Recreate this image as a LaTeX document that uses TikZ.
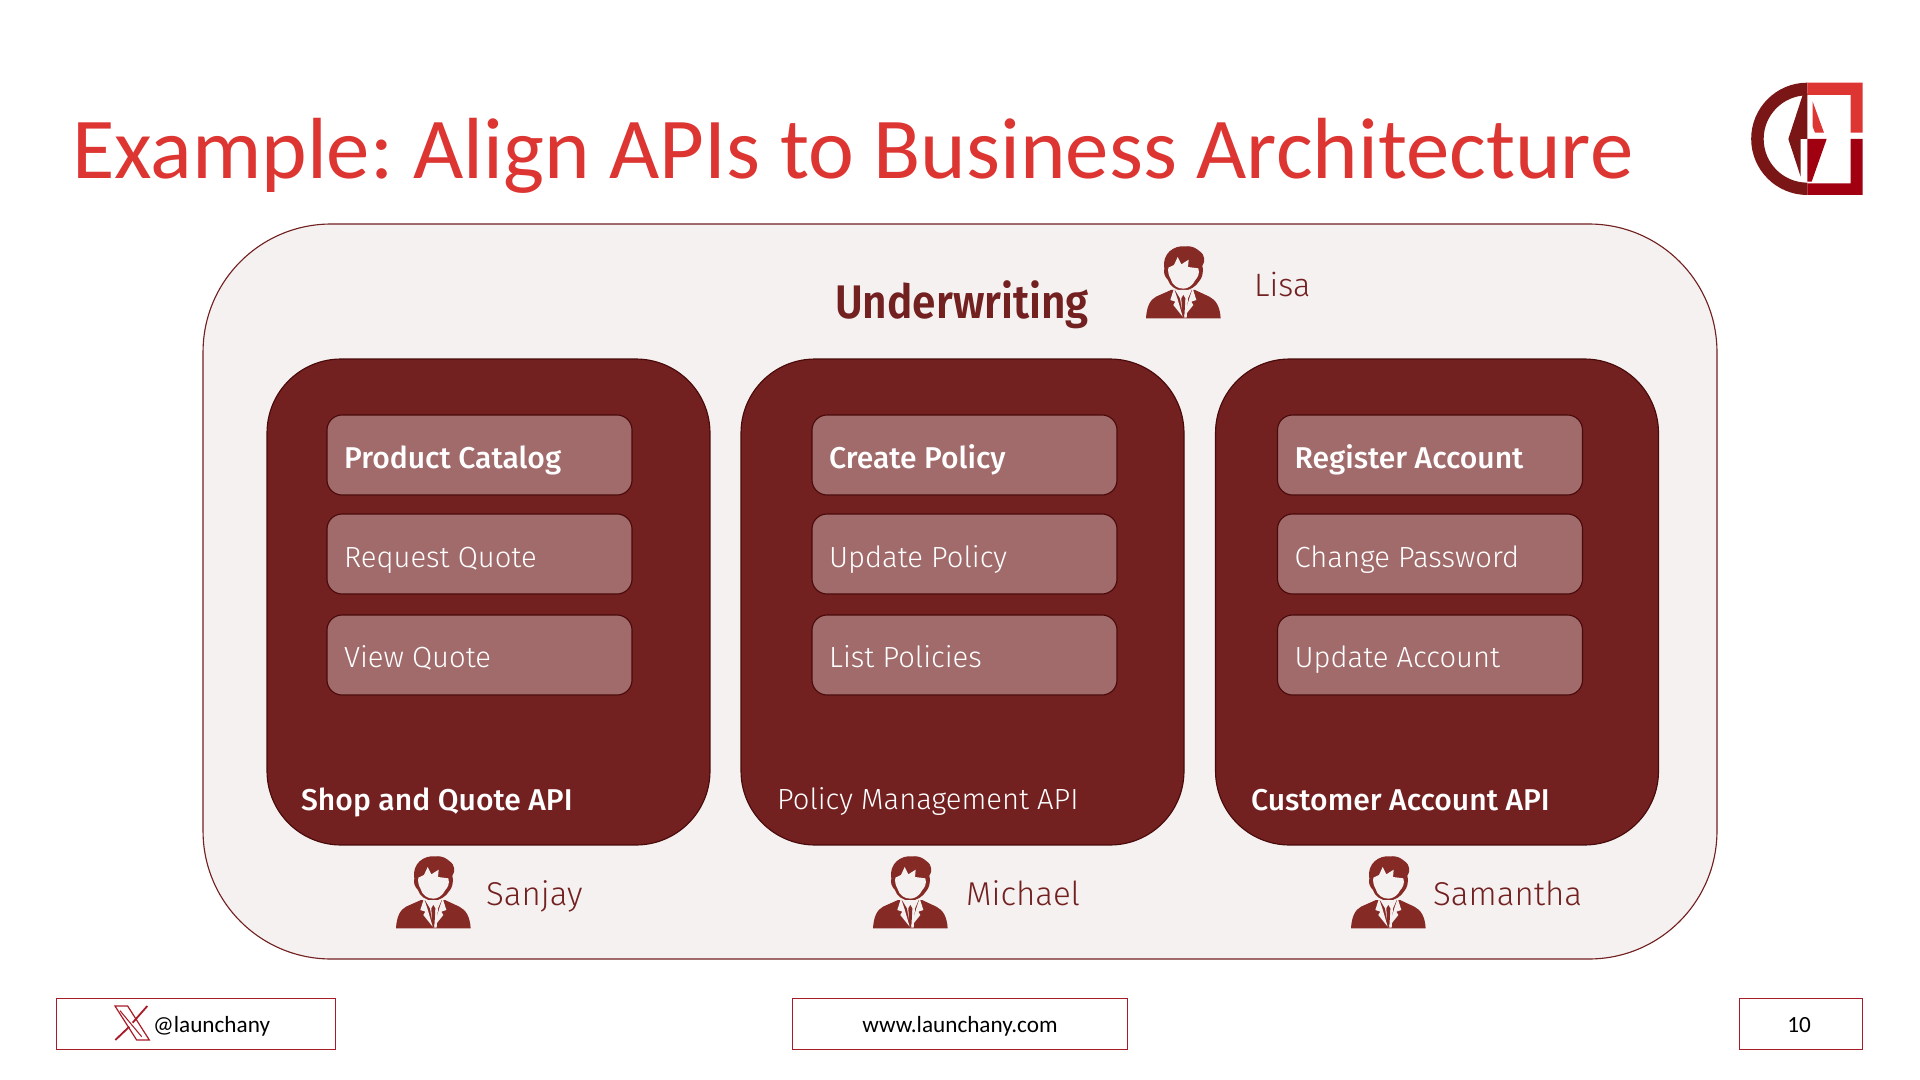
\documentclass[tikz,border=0pt]{standalone}
\usepackage{fontspec}
\setmainfont{Fira Sans Light}[BoldFont={Fira Sans Medium}]
\newfontfamily\titlefont{Carlito}
\newfontfamily\uwfont[FakeStretch=0.9]{Fira Sans SemiBold}
\usetikzlibrary{calc}
\definecolor{panelred}{HTML}{722020}
\definecolor{subred}{HTML}{A16B6B}
\definecolor{edgered}{HTML}{4A0A0A}
\definecolor{paleback}{HTML}{F5F1F1}
\definecolor{titlered}{HTML}{DC3532}
\definecolor{iconred}{HTML}{862A26}
\definecolor{logodark}{HTML}{7A1616}
\definecolor{logomid}{HTML}{A00010}
\definecolor{footred}{HTML}{A81C28}
\newcommand{\opfont}{\fontsize{41.5}{48}\selectfont}
\newcommand{\opboldfont}{\bfseries\fontsize{42.8}{48}\selectfont}
\tikzset{
  x=0.05cm,y=-0.05cm,
  outerpanel/.style={draw=panelred,line width=1.6pt,fill=paleback,rounded corners=6.4cm,minimum width=75.7cm,minimum height=36.75cm,inner sep=0},
  apipanel/.style={draw=edgered,line width=1.6pt,fill=panelred,rounded corners=3.7cm,minimum width=22.15cm,minimum height=24.3cm,inner sep=0},
  opbox/.style={draw=edgered,line width=1.6pt,fill=subred,rounded corners=0.75cm,minimum width=15.25cm,minimum height=4cm,inner sep=0},
  optext/.style={text=white,anchor=base west,inner sep=0,font=\opfont},
  apilabel/.style={text=white,anchor=base west,inner sep=0,font=\opfont},
  ownerlabel/.style={text=panelred,anchor=base west,inner sep=0,font=\fontsize{47}{56}\selectfont},
  footbox/.style={draw=footred,line width=1.1pt,fill=white,minimum height=2.55cm,inner sep=0},
  foottext/.style={text=black,inner sep=0,font=\titlefont\fontsize{33}{40}\selectfont},
  person/.pic={
    \begin{scope}[scale=0.3333]
    \fill[iconred] (0,220) .. controls (2,185) and (12,165) .. (30,155) -- (75,135) -- (147,135) -- (190,155) .. controls (210,165) and (222,185) .. (224,220) -- cycle;
    \fill[iconred] (55,70) .. controls (47,25) and (85,0) .. (118,4) .. controls (140,2) and (150,10) .. (160,18) .. controls (178,30) and (178,50) .. (169,62) .. controls (174,85) and (167,100) .. (160,108) .. controls (150,125) and (130,137) .. (112,137) .. controls (90,137) and (70,122) .. (66,105) .. controls (56,95) and (52,85) .. (55,70) -- cycle;
    \fill[paleback] (67,68) -- (84,60) -- (95,36) -- (106,58) -- (128,44) -- (126,66) -- (157,70) .. controls (162,85) and (155,98) .. (148,105) .. controls (140,122) and (125,131) .. (112,131) .. controls (95,131) and (78,120) .. (74,102) .. controls (68,92) and (65,80) .. (67,68) -- cycle;
    \fill[paleback] (87,135) -- (137,135) -- (126,160) -- (122,218) -- (112,218) -- (102,160) -- cycle;
    \fill[iconred] (106,160) -- (112,150) -- (118,160) -- (115,218) -- (109,218) -- cycle;
    \fill[paleback] (84,130) -- (73,165) -- (88,170) -- (82,180) -- (110,215) -- (94,160) -- cycle;
    \fill[paleback] (140,130) -- (151,165) -- (136,170) -- (142,180) -- (114,215) -- (130,160) -- cycle;
    \end{scope}
  }
}
\begin{document}
\begin{tikzpicture}
\useasboundingbox (0,0) rectangle (1920,1080);
\fill[white] (0,0) rectangle (1920,1080);
% title
\node[anchor=base west,inner sep=0,text=titlered,font=\titlefont\fontsize{123.5}{140}\selectfont] (title) at (72,178) {Example:\hspace{-0.07em} Align APIs to Business Architecture};
% logo
\begin{scope}[shift={(1720,60)},scale=0.3333]
\fill[logodark] (262,68) arc[start angle=270,end angle=90,radius=168.5] -- (262,368) arc[start angle=90,end angle=270,radius=131] -- cycle;
\fill[titlered] (262,68) -- (428,68) -- (428,218) -- (392,218) -- (392,105) -- (262,105) -- cycle;
\fill[logomid] (428,237) -- (428,405) -- (262,405) -- (262,370) -- (392,370) -- (392,237) -- cycle;
\fill[logodark] (262,100) -- (248,105) -- (205,237) -- (242,350) -- (242,237) -- (262,237) -- cycle;
\fill[titlered] (278,125) -- (312,218) -- (285,218) -- (278,200) -- cycle;
\fill[logomid] (262,237) -- (320,237) -- (275,365) -- (262,365) -- cycle;
\end{scope}
% outer
\node[outerpanel] (uw) at (960,591.5) {};
\node[anchor=base,inner sep=0,text=panelred,font=\uwfont\fontsize{67}{80}\selectfont] (uwlabel) at (962,318) {Underwriting};
\pic at (1146,245) {person};
\node[ownerlabel,font=\fontsize{46}{56}\selectfont] (lisa) at (1254,296) {Lisa};
% panels
\node[apipanel] (p1) at (488.5,602) {};
\node[apipanel] (p2) at (962.5,602) {};
\node[apipanel] (p3) at (1437,602) {};
% boxes
\node[opbox] (a1) at (479.5,455) {};
\node[opbox] (a2) at (479.5,554) {};
\node[opbox] (a3) at (479.5,655) {};
\node[opbox] (b1) at (964.5,455) {};
\node[opbox] (b2) at (964.5,554) {};
\node[opbox] (b3) at (964.5,655) {};
\node[opbox] (c1) at (1430,455) {};
\node[opbox] (c2) at (1430,554) {};
\node[opbox] (c3) at (1430,655) {};
\node[optext,font=\opboldfont] at (344,468) {Product Catalog};
\node[optext] at (344,567) {Request Quote};
\node[optext] at (344,667) {View Quote};
\node[optext,font=\opboldfont] at (829,468) {Create Policy};
\node[optext] at (829,567) {Update Policy};
\node[optext] at (829,667) {List Policies};
\node[optext,font=\opboldfont] at (1294.5,468) {Register Account};
\node[optext] at (1294.5,567) {Change Password};
\node[optext] at (1294.5,667) {Update Account};
\node[apilabel,font=\opboldfont] at (301,810) {Shop and Quote API};
\node[apilabel] at (777,809) {Policy Management API};
\node[apilabel,font=\opboldfont] at (1251,810) {Customer Account API};
% owners
\pic at (396,855) {person};
\pic at (873,855) {person};
\pic at (1351,855) {person};
\node[ownerlabel] at (486,905) {Sanjay};
\node[ownerlabel] at (966,905) {Michael};
\node[ownerlabel] at (1433,905) {Samantha};
% footer
\node[footbox,minimum width=13.95cm] (f1) at (195.5,1023.5) {};
\node[footbox,minimum width=16.75cm] (f2) at (959.5,1023.5) {};
\node[footbox,minimum width=6.15cm] (f3) at (1800.5,1023.5) {};
\begin{scope}[shift={(30,980)},scale=0.3333]
\draw[draw=footred,line width=1.7pt,line join=miter] (255,78) -- (293,78) -- (358,180) -- (320,180) -- cycle;
\draw[draw=footred,line width=1.5pt] (270,92) -- (335,170);
\draw[draw=footred,line width=2.6pt] (352,78) -- (308,128);
\draw[draw=footred,line width=2.6pt] (298,140) -- (256,180);
\end{scope}
\node[foottext,anchor=base west] (handle) at (153,1032) {@launchany};
\node[foottext,anchor=base] (www) at (960,1032) {www.launchany.com};
\node[foottext,anchor=base] (page) at (1799,1032) {10};
\end{tikzpicture}
\end{document}
